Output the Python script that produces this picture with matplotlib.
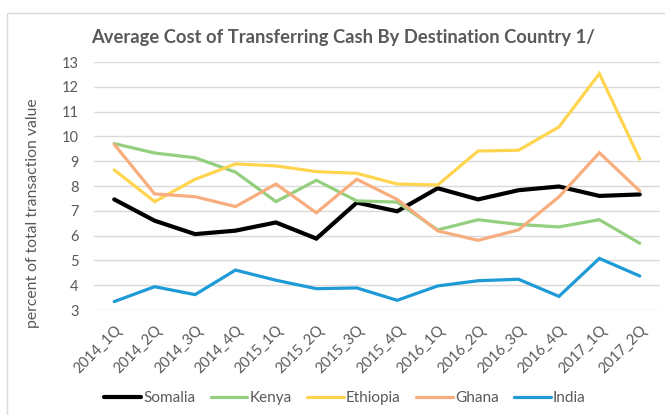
import matplotlib
matplotlib.use("Agg")
import matplotlib.pyplot as plt
from matplotlib.patches import Rectangle

quarters = ["2014_1Q", "2014_2Q", "2014_3Q", "2014_4Q", "2015_1Q", "2015_2Q", "2015_3Q",
            "2015_4Q", "2016_1Q", "2016_2Q", "2016_3Q", "2016_4Q", "2017_1Q", "2017_2Q"]
somalia = [7.46, 6.6, 6.06, 6.2, 6.53, 5.88, 7.33, 6.98, 7.91, 7.46, 7.83, 7.98, 7.6, 7.66]
kenya = [9.71, 9.33, 9.14, 8.56, 7.37, 8.23, 7.4, 7.35, 6.23, 6.64, 6.45, 6.35, 6.64, 5.69]
ethiopia = [8.65, 7.37, 8.27, 8.89, 8.81, 8.58, 8.51, 8.08, 8.04, 9.41, 9.44, 10.38, 12.53, 9.08]
ghana = [9.68, 7.68, 7.57, 7.17, 8.08, 6.92, 8.27, 7.46, 6.19, 5.81, 6.23, 7.56, 9.34, 7.8]
india = [3.34, 3.94, 3.62, 4.61, 4.2, 3.86, 3.89, 3.39, 3.97, 4.18, 4.24, 3.55, 5.08, 4.37]

series = [("Somalia", somalia, "#000000", 3.0),
          ("Kenya", kenya, "#93CF7F", 2.3),
          ("Ethiopia", ethiopia, "#FFD54F", 2.3),
          ("Ghana", ghana, "#F8AD7E", 2.3),
          ("India", india, "#1E9BD7", 2.3)]

plt.rcParams["font.family"] = ["Lato", "DejaVu Sans"]
grey = "#595959"

fig = plt.figure(figsize=(6.65, 4.15), dpi=100)
fig.patches.append(Rectangle((7 / 665, -0.1), 1.2, 1 - 13 / 415 + 0.1, transform=fig.transFigure,
                             fill=False, edgecolor="#D9D9D9", linewidth=1))
ax = fig.add_axes([94 / 665, 1 - 310 / 415, 566 / 665, 248 / 415])

x = list(range(len(quarters)))
for name, vals, col, lw in series:
    ax.plot(x, vals, color=col, linewidth=lw, label=name, solid_capstyle="round", solid_joinstyle="miter")

ax.set_xlim(-0.5, len(quarters) - 0.5)
ax.set_ylim(3, 13)
ax.set_yticks(range(3, 14))
ax.grid(axis="y", color="#D9D9D9", linewidth=1)
ax.set_axisbelow(True)
for s in ax.spines.values():
    s.set_visible(False)
ax.tick_params(length=0, colors=grey, labelsize=10.5)
ax.tick_params(axis="y", pad=11)
ax.set_xticks(x)
ax.set_xticklabels(quarters, rotation=45, ha="right", rotation_mode="anchor", fontsize=10.5)
ax.tick_params(axis="x", pad=9)

fig.text(33 / 665, 1 - 213 / 415, "percent of total transaction value", rotation=90,
         color=grey, fontsize=11.3, ha="center", va="center")
fig.text(91 / 665, 1 - 38 / 415, "Average Cost of Transferring Cash By Destination Country 1/",
         fontsize=13.2, fontweight="bold", color=grey, va="center", ha="left")

leg = fig.legend(loc="center", bbox_to_anchor=(345 / 665, 1 - 398 / 415), ncol=5, frameon=False,
                 handlelength=2.4, handletextpad=0.15, columnspacing=1.0, fontsize=11)
for t in leg.get_texts():
    t.set_color(grey)

fig.savefig("out.png", dpi=100)
